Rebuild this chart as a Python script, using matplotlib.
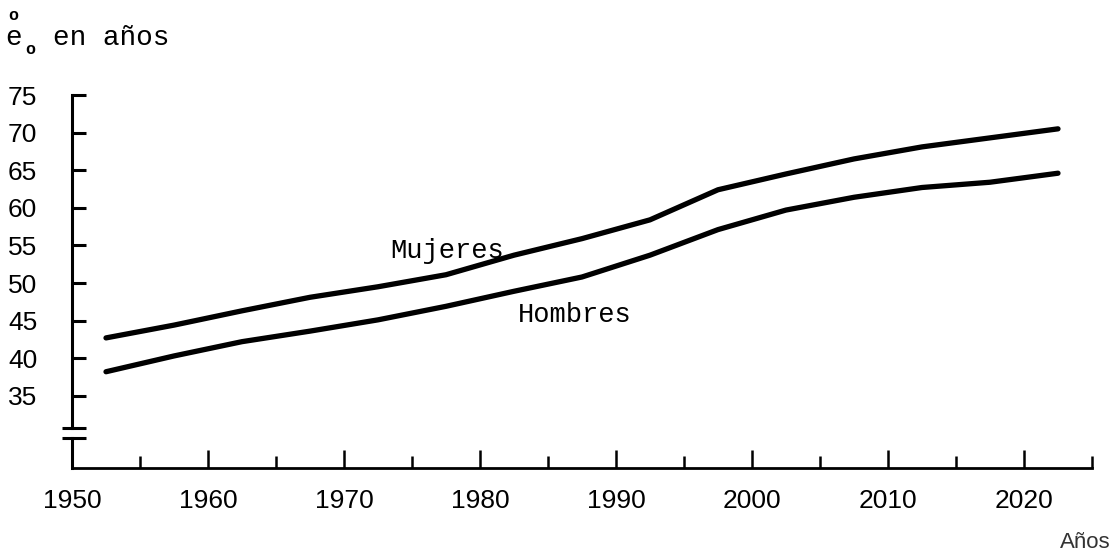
import matplotlib
matplotlib.use("Agg")
import matplotlib.pyplot as plt
from matplotlib.ticker import FixedLocator
import matplotlib.transforms as mtransforms

# Data (quinquennial midpoints)
years = [1952.5, 1957.5, 1962.5, 1967.5, 1972.5, 1977.5, 1982.5, 1987.5,
         1992.5, 1997.5, 2002.5, 2007.5, 2012.5, 2017.5, 2022.5]
mujeres = [42.7, 44.4, 46.3, 48.1, 49.5, 51.1, 53.7, 55.9,
           58.4, 62.4, 64.5, 66.5, 68.1, 69.3, 70.5]
hombres = [38.2, 40.3, 42.2, 43.6, 45.1, 46.9, 48.9, 50.8,
           53.7, 57.1, 59.7, 61.4, 62.7, 63.4, 64.6]

y_ticks = [35, 40, 45, 50, 55, 60, 65, 70, 75]
y_long = [40, 50, 60, 70]
x_ticks = [1950, 1960, 1970, 1980, 1990, 2000, 2010, 2020]
x_minor = [1955, 1965, 1975, 1985, 1995, 2005, 2015, 2025]

W, H = 1120, 560
fig = plt.figure(figsize=(W / 100, H / 100), dpi=100)
left, right, bottom, top = 72, 1092, 468, 95
ax = fig.add_axes([left / W, (H - bottom) / H, (right - left) / W, (bottom - top) / H])
ax.set_xlim(1950, 2025)
ax.set_ylim(25.4, 75)

for s in ("top", "right"):
    ax.spines[s].set_visible(False)
ax.spines["left"].set_linewidth(2.2)
ax.spines["bottom"].set_linewidth(2.0)
ax.spines["left"].set_bounds(30.7, 75)

# lower segment of y axis below the break
trans = mtransforms.blended_transform_factory(ax.transAxes, ax.transData)
ax.plot([0, 0], [25.4, 29.4], color="black", lw=2.2, transform=trans, clip_on=False)
# break marks
for yb in (30.7, 29.4):
    ax.plot([-0.010, 0.014], [yb, yb], color="black", lw=2.2, transform=trans,
            clip_on=False, solid_capstyle="butt")

ax.plot(years, mujeres, color="black", lw=3.8, solid_capstyle="round", solid_joinstyle="round")
ax.plot(years, hombres, color="black", lw=3.8, solid_capstyle="round", solid_joinstyle="round")

tick_font = dict(family="Liberation Sans", size=19)
ax.yaxis.set_major_locator(FixedLocator(y_ticks))
ax.set_yticklabels([str(v) for v in y_ticks], **tick_font)
ax.yaxis.set_minor_locator(FixedLocator(y_long))
ax.tick_params(axis="y", which="major", direction="in", length=10, width=2.2, pad=25)
ax.tick_params(axis="y", which="minor", direction="in", length=15, width=2.2)

ax.xaxis.set_major_locator(FixedLocator(x_ticks))
ax.set_xticklabels([str(v) for v in x_ticks], **tick_font)
ax.xaxis.set_minor_locator(FixedLocator(x_minor))
ax.tick_params(axis="x", which="major", direction="in", length=13, width=1.8, pad=15)
ax.tick_params(axis="x", which="minor", direction="in", length=9, width=1.8)

mono = "Liberation Mono"
ax.text(1977.6, 54.3, "Mujeres", family=mono, fontsize=19.5, ha="center", va="center")
ax.text(1987.0, 45.7, "Hombres", family=mono, fontsize=19.5, ha="center", va="center")

# y-axis title at top-left
fig.text(13 / W, 1 - 16 / H, "o", family=mono, fontsize=12, fontweight="bold",
         ha="center", va="center")
fig.text(5 / W, 1 - 45 / H, "e", family=mono, fontsize=20, ha="left", va="baseline")
fig.text(30 / W, 1 - 50 / H, "o", family=mono, fontsize=12, fontweight="bold",
         ha="center", va="center")
fig.text(53 / W, 1 - 45 / H, "en años", family=mono, fontsize=20, ha="left", va="baseline")

fig.text(1085 / W, 1 - 542 / H, "Años", family="Liberation Sans", fontsize=16,
         ha="center", va="center", color="#333333")

fig.savefig("out.png", dpi=100)
